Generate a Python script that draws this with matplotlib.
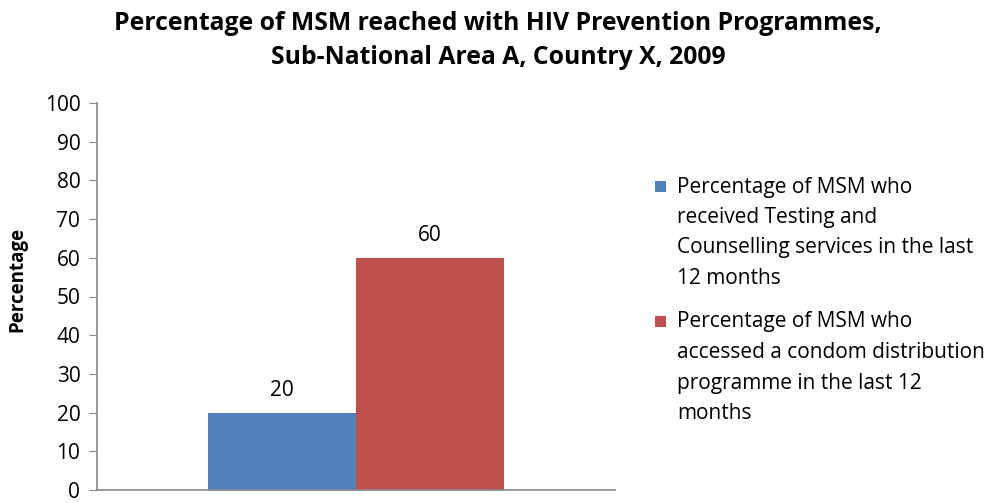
import matplotlib.pyplot as plt
from matplotlib.patches import Rectangle

plt.rcParams['font.family'] = ['Open Sans', 'DejaVu Sans']

series_labels = [
    ["Percentage of MSM who", "received Testing and",
     "Counselling services in the last", "12 months"],
    ["Percentage of MSM who", "accessed a condom distribution",
     "programme in the last 12", "months"],
]
values = [20, 60]
colors = ["#4F81BD", "#C0504D"]
yticks = [0, 10, 20, 30, 40, 50, 60, 70, 80, 90, 100]

W, H = 996, 503
fig = plt.figure(figsize=(W / 100, H / 100), dpi=100)
ax = fig.add_axes([97 / W, 1 - 490 / H, (615 - 97) / W, (490 - 103) / H])

width = 0.286
positions = [-width / 2, width / 2]
for x, v, c in zip(positions, values, colors):
    ax.bar(x, v, width=width, color=c, align='center')
    ax.text(x, v + 3, f"{v}", ha='center', va='bottom', fontsize=15)

ax.set_xlim(-0.5, 0.5)
ax.set_ylim(0, 100)
ax.set_yticks(yticks)
ax.set_xticks([])
ax.tick_params(axis='y', labelsize=15, length=6, color='#888888', pad=6)
for s in ['top', 'right']:
    ax.spines[s].set_visible(False)
for s in ['left', 'bottom']:
    ax.spines[s].set_color('#888888')
    ax.spines[s].set_linewidth(1.2)

ax.set_ylabel("Percentage", fontsize=13.5, fontweight='bold')
ax.yaxis.set_label_coords(-0.135, 0.545)

fig.text(498 / W, 1 - 23 / H, "Percentage of MSM reached with HIV Prevention Programmes,",
         ha='center', va='center', fontsize=17.8, fontweight='bold')
fig.text(498 / W, 1 - 58 / H, "Sub-National Area A, Country X, 2009",
         ha='center', va='center', fontsize=17.8, fontweight='bold')

# manual legend
entry_tops = [187, 322]
line_step = 30.5
for lines, c, y0 in zip(series_labels, colors, entry_tops):
    fig.patches.append(Rectangle((655 / W, 1 - (y0 + 5) / H), 11 / W, 11 / H,
                                 transform=fig.transFigure, facecolor=c, edgecolor='none'))
    for i, line in enumerate(lines):
        fig.text(677 / W, 1 - (y0 + i * line_step) / H, line,
                 ha='left', va='center', fontsize=15)

fig.savefig("out.png", dpi=100)
